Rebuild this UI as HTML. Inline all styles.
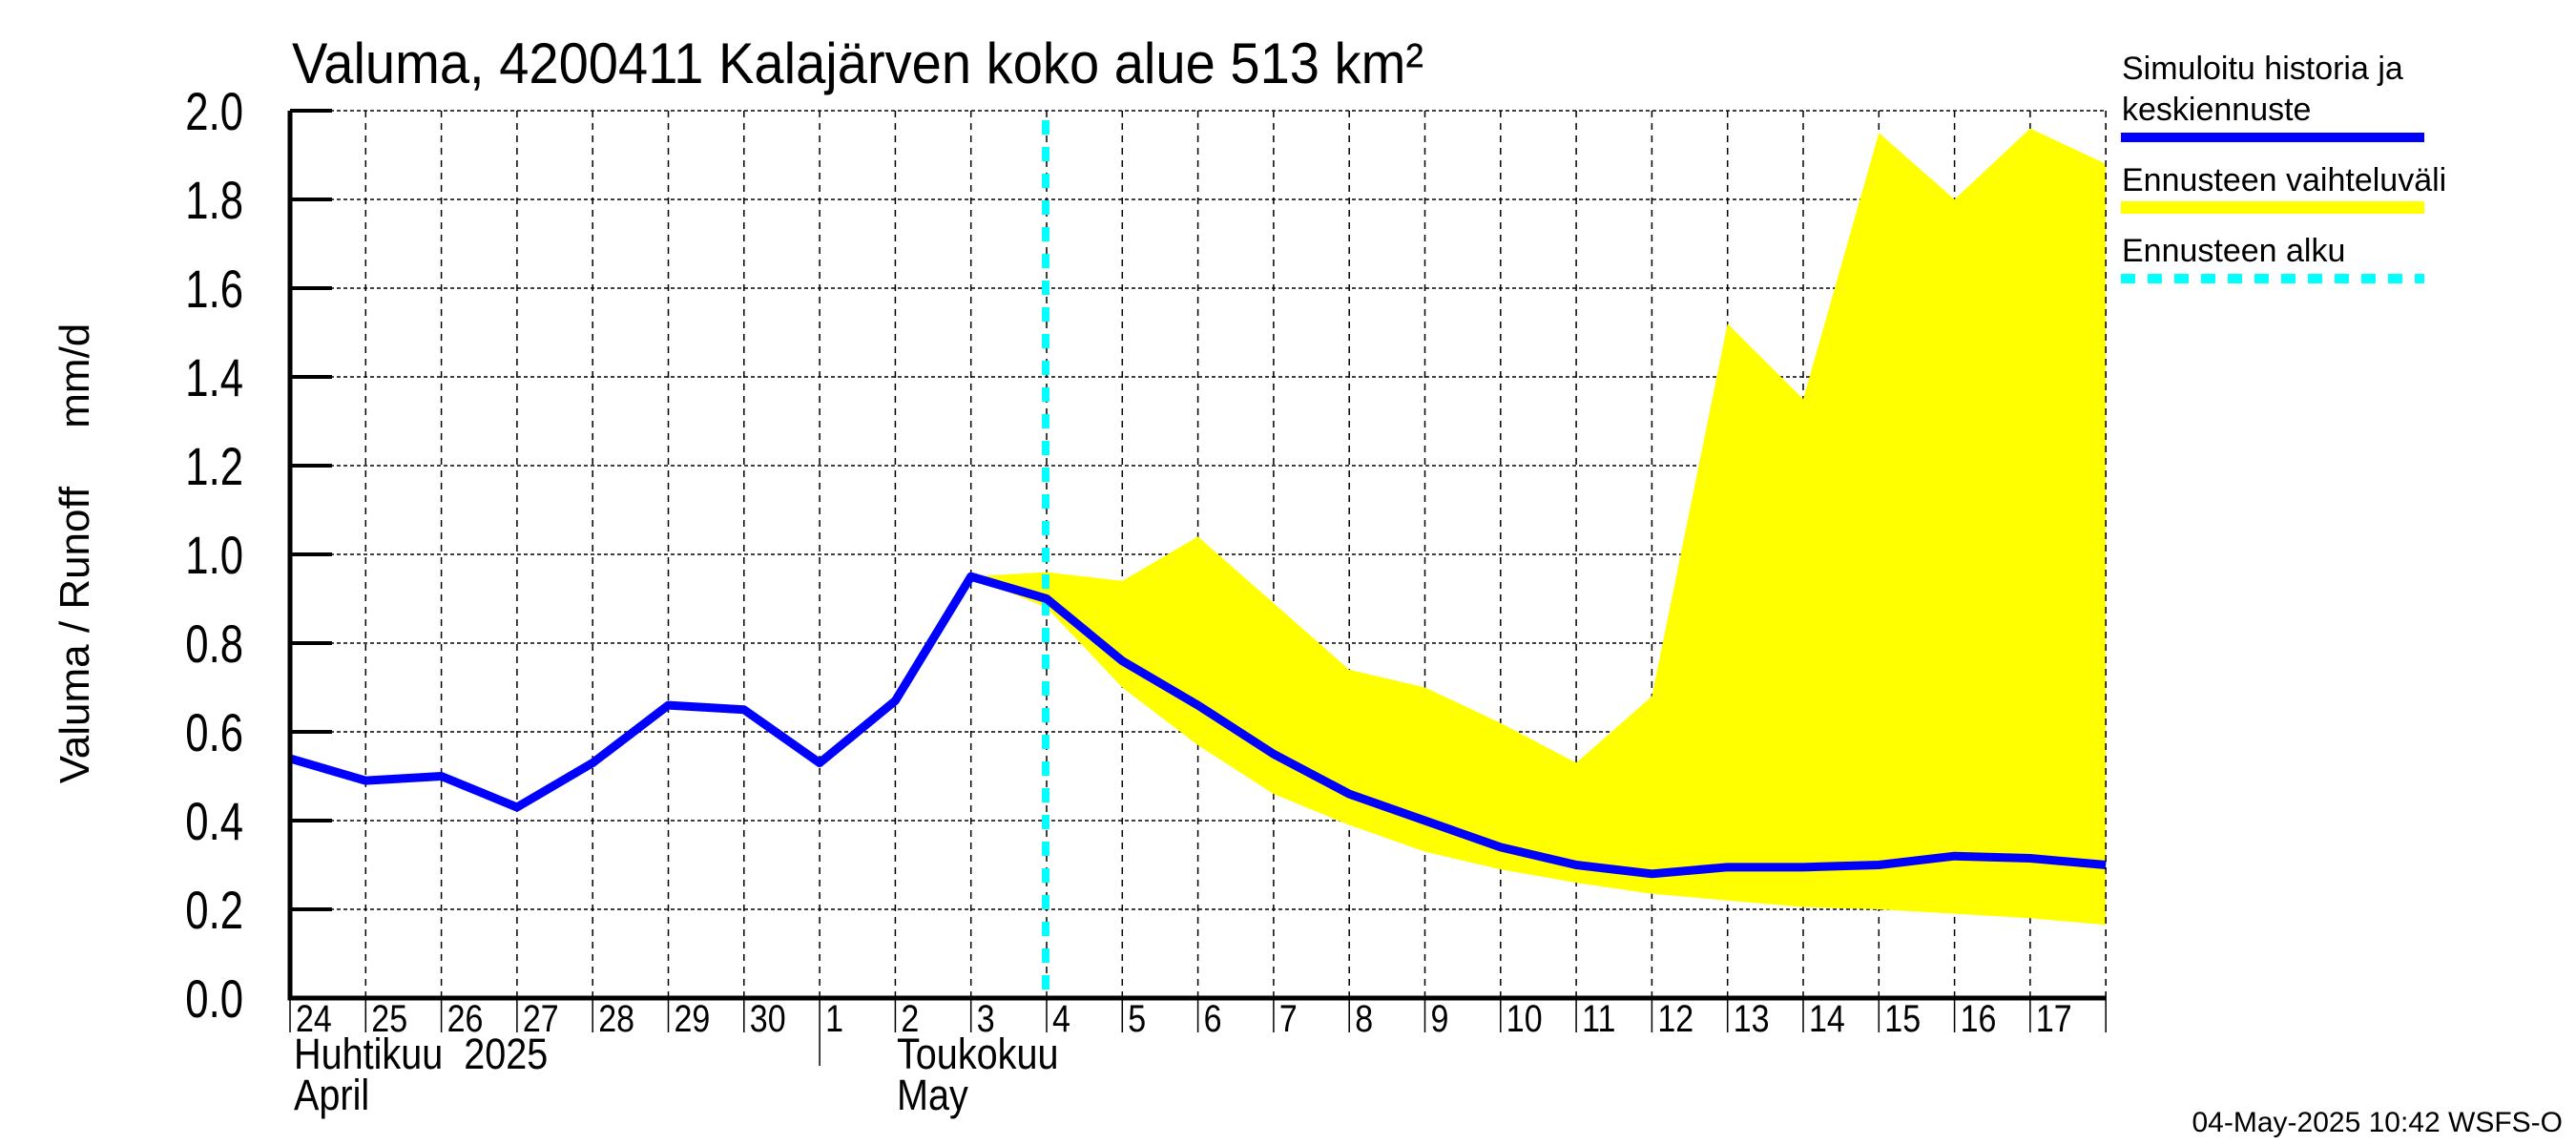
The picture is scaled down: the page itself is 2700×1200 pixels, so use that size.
<!DOCTYPE html>
<html><head><meta charset="utf-8"><style>
html,body{margin:0;padding:0;background:#fff;}
svg{display:block;font-family:"Liberation Sans",sans-serif;}
</style></head><body>
<svg id="chart" width="2700" height="1200" viewBox="0 0 2700 1200" xmlns="http://www.w3.org/2000/svg">
<text transform="translate(306,87) scale(0.935,1)" font-size="60">Valuma, 4200411 Kalajärven koko alue 513 km²</text>
<g id="grid"></g>
<g id="band"></g>
<g id="series"></g>
<g id="axes"></g>
<text transform="translate(93,580) rotate(-90)" text-anchor="middle" font-size="44" xml:space="preserve" style="white-space:pre">Valuma / Runoff     mm/d</text>
<g>
<text x="2224" y="83" font-size="34">Simuloitu historia ja</text>
<text x="2224" y="126" font-size="34">keskiennuste</text>
<rect x="2223" y="139" width="318" height="10" fill="#0000ff"/>
<text x="2224" y="200" font-size="34">Ennusteen vaihteluväli</text>
<rect x="2223" y="211" width="318" height="13" fill="#ffff00"/>
<text x="2224" y="274" font-size="34">Ennusteen alku</text>
<line x1="2223" y1="292" x2="2541" y2="292" stroke="#00ffff" stroke-width="10" stroke-dasharray="15 13"/>
</g>
<text x="2686" y="1186" text-anchor="end" font-size="30">04-May-2025 10:42 WSFS-O</text>
</svg>
<script>
const dayLabels = ["24","25","26","27","28","29","30","1","2","3","4","5","6","7","8","9","10","11","12","13","14","15","16","17"];
const yTicks = [0,0.2,0.4,0.6,0.8,1.0,1.2,1.4,1.6,1.8,2.0];
const yTickLabels = ["0.0","0.2","0.4","0.6","0.8","1.0","1.2","1.4","1.6","1.8","2.0"];
const simValues = [0.54,0.49,0.50,0.43,0.53,0.66,0.65,0.53,0.67,0.95,0.90,0.76,0.66,0.55,0.46,0.40,0.34,0.30,0.28,0.295,0.295,0.30,0.32,0.315,0.30];
const bandStart = 9;
const bandUpper = [0.95,0.96,0.94,1.04,0.89,0.74,0.70,0.62,0.53,0.68,1.52,1.35,1.95,1.80,1.96,1.88];
const bandLower = [0.95,0.88,0.70,0.57,0.46,0.39,0.33,0.29,0.26,0.235,0.22,0.205,0.20,0.19,0.18,0.165];
const forecastStartDay = 10;
const NS="http://www.w3.org/2000/svg";
const X0=304, DX=79.3, Y0=1046, YS=465, nDays=24;
const xs=i=>X0+i*DX, ys=v=>Y0-v*YS;
const XR=xs(nDays);
function mk(tag,attrs,parent){const e=document.createElementNS(NS,tag);for(const k in attrs)e.setAttribute(k,attrs[k]);parent.appendChild(e);return e;}
const grid=document.getElementById('grid'), axes=document.getElementById('axes'), band=document.getElementById('band'), series=document.getElementById('series');
for(let i=1;i<=nDays;i++){
  const l=mk('line',{x1:xs(i),y1:ys(2),x2:xs(i),y2:Y0,stroke:'#000','stroke-width':1.5,'stroke-dasharray':'7 6'},grid);
  
  
}
for(let i=0;i<=nDays;i++){
  const t=mk('line',{x1:xs(i),y1:Y0,x2:xs(i),y2:i===7?1117:1082,stroke:'#000','stroke-width':1.5},axes);
  
  
}
yTicks.forEach((v,i)=>{
  if(v>0){const g=mk('line',{x1:X0,y1:ys(v),x2:XR,y2:ys(v),stroke:'#000','stroke-width':1.5,'stroke-dasharray':'4 3'},grid);
  
  }
  const t=mk('line',{x1:X0,y1:ys(v),x2:X0+44,y2:ys(v),stroke:'#000','stroke-width':4},axes);
  
  
  const lb=mk('text',{transform:`translate(255,${ys(v)+20}) scale(0.78,1)`,'text-anchor':'end','font-size':56},axes);
  lb.textContent=yTickLabels[i];
  
  
});
dayLabels.forEach((d,i)=>{
  const t=mk('text',{transform:`translate(${xs(i)+6},1081) scale(0.85,1)`,'font-size':40},axes);
  t.textContent=d;
  
  
});
[["Huhtikuu  2025",308,1120],["April",308,1163],["Toukokuu",940,1120],["May",940,1163]].forEach(m=>{
  const t=mk('text',{transform:`translate(${m[1]},${m[2]}) scale(0.88,1)`,'font-size':45,'xml:space':'preserve',style:'white-space:pre'},axes);
  t.textContent=m[0];
  
  
});
let pts=bandUpper.map((v,i)=>xs(bandStart+i)+','+ys(v));
for(let i=bandLower.length-1;i>=0;i--)pts.push(xs(bandStart+i)+','+ys(bandLower[i]));
const poly=mk('polygon',{points:pts.join(' '),fill:'#ffff00'},band);


const fl=mk('line',{x1:xs(forecastStartDay)-1,y1:ys(2)+10,x2:xs(forecastStartDay)-1,y2:Y0,stroke:'#00ffff','stroke-width':8,'stroke-dasharray':'15 13'},series);


const sl=mk('polyline',{points:simValues.map((v,i)=>xs(i)+','+ys(v)).join(' '),fill:'none',stroke:'#0000ff','stroke-width':9,'stroke-linejoin':'round'},series);


const bl=mk('path',{d:`M${X0},${ys(2)} V${Y0} H${XR}`,fill:'none',stroke:'#000','stroke-width':5},axes);


const rb=mk('line',{x1:XR,y1:ys(2),x2:XR,y2:Y0,stroke:'#000','stroke-width':1.5,'stroke-dasharray':'7 6'},axes);


</script>
</body></html>
